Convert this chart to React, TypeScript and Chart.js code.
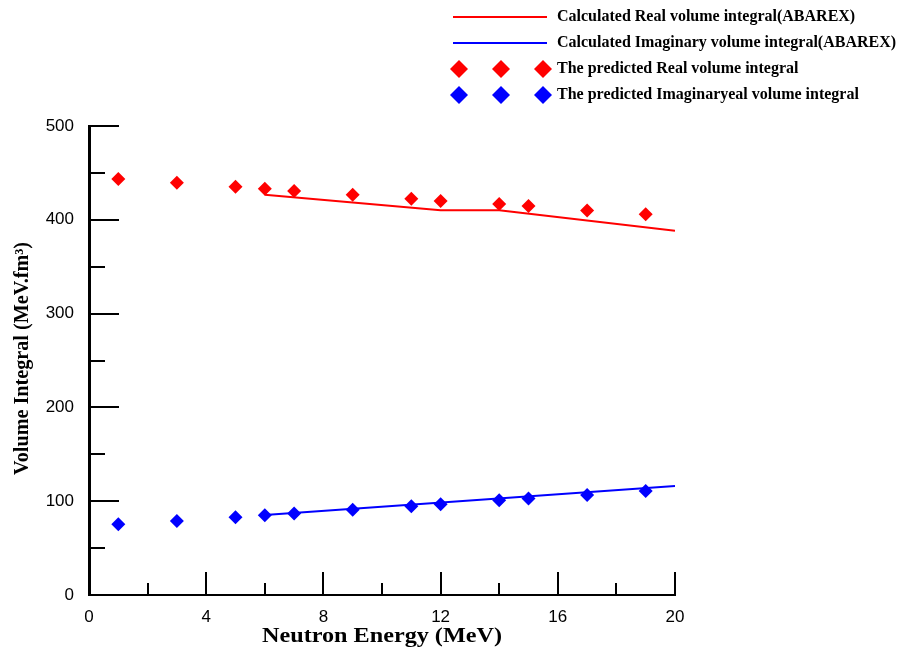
import React, { useEffect, useRef } from "react";
import { Chart, registerables } from "chart.js";

Chart.register(...registerables);

// Neutron energies (MeV) of the predicted points
const energies = [1, 3, 5, 6, 7, 9, 11, 12, 14, 15, 17, 19];
// Predicted real volume integrals (MeV.fm^3)
const predictedReal = [443.5, 439.6, 435.3, 433.2, 430.8, 426.8, 422.5, 420.1, 416.8, 414.6, 409.8, 405.8];
// Predicted imaginary volume integrals (MeV.fm^3)
const predictedImag = [75.5, 79, 82.8, 85, 87, 91, 94.6, 96.7, 101, 103, 106.7, 110.9];

// ABAREX calculated curves
const calcRealEnergies = [6, 12, 14, 20];
const calcRealValues = [426.8, 410.3, 410.3, 388.2];
const calcImagEnergies = [6, 20];
const calcImagValues = [85.3, 116.2];

const xTickLabels = ["0", "4", "8", "12", "16", "20"];
const yTickLabels = ["0", "100", "200", "300", "400", "500"];

const legendLabels = [
  "Calculated Real volume integral(ABAREX)",
  "Calculated Imaginary volume integral(ABAREX)",
  "The predicted Real volume integral",
  "The predicted Imaginaryeal volume integral",
];

const RED = "#ff0000";
const BLUE = "#0000ff";

function pts(xs: number[], ys: number[]) {
  return xs.map((x, i) => ({ x, y: ys[i] }));
}

function diamond(ctx: CanvasRenderingContext2D, x: number, y: number, r: number, color: string) {
  ctx.beginPath();
  ctx.moveTo(x, y - r);
  ctx.lineTo(x + r, y);
  ctx.lineTo(x, y + r);
  ctx.lineTo(x - r, y);
  ctx.closePath();
  ctx.fillStyle = color;
  ctx.fill();
}

function fitText(ctx: CanvasRenderingContext2D, text: string, x: number, y: number, width: number) {
  const w = ctx.measureText(text).width;
  const sx = width / w;
  ctx.save();
  ctx.translate(x, y);
  ctx.scale(sx, 1);
  ctx.fillText(text, 0, 0);
  ctx.restore();
}

const decorPlugin = {
  id: "decor",
  afterDraw(chart: any) {
    const ctx: CanvasRenderingContext2D = chart.ctx;
    const xs = chart.scales.x;
    const ys = chart.scales.y;
    const { left, bottom } = chart.chartArea;
    ctx.save();
    ctx.strokeStyle = "#000";
    ctx.lineWidth = 2;
    // y ticks (inward)
    for (let v = 0; v <= 500; v += 50) {
      const py = Math.round(ys.getPixelForValue(v));
      const len = v % 100 === 0 ? 30 : 16;
      ctx.beginPath();
      ctx.moveTo(left, py);
      ctx.lineTo(left + len, py);
      ctx.stroke();
    }
    // x ticks (inward)
    for (let v = 2; v <= 20; v += 2) {
      const px = Math.round(xs.getPixelForValue(v));
      const len = v % 4 === 0 ? 23 : 12;
      ctx.beginPath();
      ctx.moveTo(px, bottom);
      ctx.lineTo(px, bottom - len);
      ctx.stroke();
    }

    // axis titles
    ctx.fillStyle = "#000";
    ctx.font = "bold 20px 'Liberation Serif'";
    ctx.textBaseline = "alphabetic";
    ctx.textAlign = "left";
    const xt = "Neutron Energy (MeV)";
    fitText(ctx, xt, 262, 642, 240);

    ctx.save();
    ctx.translate(28, 475);
    ctx.rotate(-Math.PI / 2);
    const yt = "Volume Integral (MeV.fm\u00b3)";
    fitText(ctx, yt, 0, 0, 233);
    ctx.restore();

    // legend
    ctx.lineWidth = 2;
    const rows = [17, 43, 69, 95];
    ctx.strokeStyle = RED;
    ctx.beginPath();
    ctx.moveTo(453, rows[0]);
    ctx.lineTo(547, rows[0]);
    ctx.stroke();
    ctx.strokeStyle = BLUE;
    ctx.beginPath();
    ctx.moveTo(453, rows[1]);
    ctx.lineTo(547, rows[1]);
    ctx.stroke();
    [459, 501, 543].forEach((dx) => {
      diamond(ctx, dx, rows[2], 9, RED);
      diamond(ctx, dx, rows[3], 9, BLUE);
    });
    ctx.fillStyle = "#000";
    ctx.font = "bold 16px 'Liberation Serif'";
    ctx.textBaseline = "middle";
    legendLabels.forEach((t, i) => ctx.fillText(t, 557, rows[i]));
    ctx.restore();
  },
};

export default function App() {
  const ref = useRef<HTMLCanvasElement>(null);
  useEffect(() => {
    document.body.style.margin = "0";
    const canvas = ref.current!;
    const chart = new Chart(canvas, {
      type: "scatter",
      data: {
        datasets: [
          {
            label: legendLabels[2],
            data: pts(energies, predictedReal),
            pointStyle: "rectRot",
            pointRadius: 7,
            pointHoverRadius: 7,
            backgroundColor: RED,
            borderColor: RED,
            borderWidth: 0,
            showLine: false,
          },
          {
            label: legendLabels[3],
            data: pts(energies, predictedImag),
            pointStyle: "rectRot",
            pointRadius: 7,
            pointHoverRadius: 7,
            backgroundColor: BLUE,
            borderColor: BLUE,
            borderWidth: 0,
            showLine: false,
          },
          {
            label: legendLabels[0],
            data: pts(calcRealEnergies, calcRealValues),
            showLine: true,
            borderColor: RED,
            borderWidth: 2,
            pointRadius: 0,
            tension: 0,
          },
          {
            label: legendLabels[1],
            data: pts(calcImagEnergies, calcImagValues),
            showLine: true,
            borderColor: BLUE,
            borderWidth: 2,
            pointRadius: 0,
            tension: 0,
          },
        ],
      },
      options: {
        animation: false,
        responsive: false,
        devicePixelRatio: 1,
        layout: { padding: { left: 0, top: 126, right: 223, bottom: 0 } },
        plugins: { legend: { display: false }, tooltip: { enabled: false } },
        scales: {
          x: {
            type: "linear",
            min: 0,
            max: 20,
            grid: { display: false, drawTicks: false },
            border: { display: true, color: "#000", width: 2 },
            ticks: {
              stepSize: 4,
              color: "#000",
              padding: 12,
              maxRotation: 0,
              font: { family: "'Liberation Sans'", size: 17 },
              callback: (v: any) => xTickLabels[Math.round(Number(v) / 4)] ?? "",
            },
            afterFit: (s: any) => {
              s.height = 55;
            },
          },
          y: {
            type: "linear",
            min: 0,
            max: 500,
            grid: { display: false, drawTicks: false },
            border: { display: true, color: "#000", width: 3 },
            ticks: {
              stepSize: 100,
              color: "#000",
              padding: 15,
              font: { family: "'Liberation Sans'", size: 17 },
              callback: (v: any) => yTickLabels[Math.round(Number(v) / 100)] ?? "",
            },
            afterFit: (s: any) => {
              s.width = 89;
            },
          },
        },
      },
      plugins: [decorPlugin],
    });
    return () => chart.destroy();
  }, []);
  return (
    <div style={{ width: 898, height: 650, background: "#fff" }}>
      <canvas ref={ref} width={898} height={650} style={{ display: "block", width: 898, height: 650 }} />
    </div>
  );
}
